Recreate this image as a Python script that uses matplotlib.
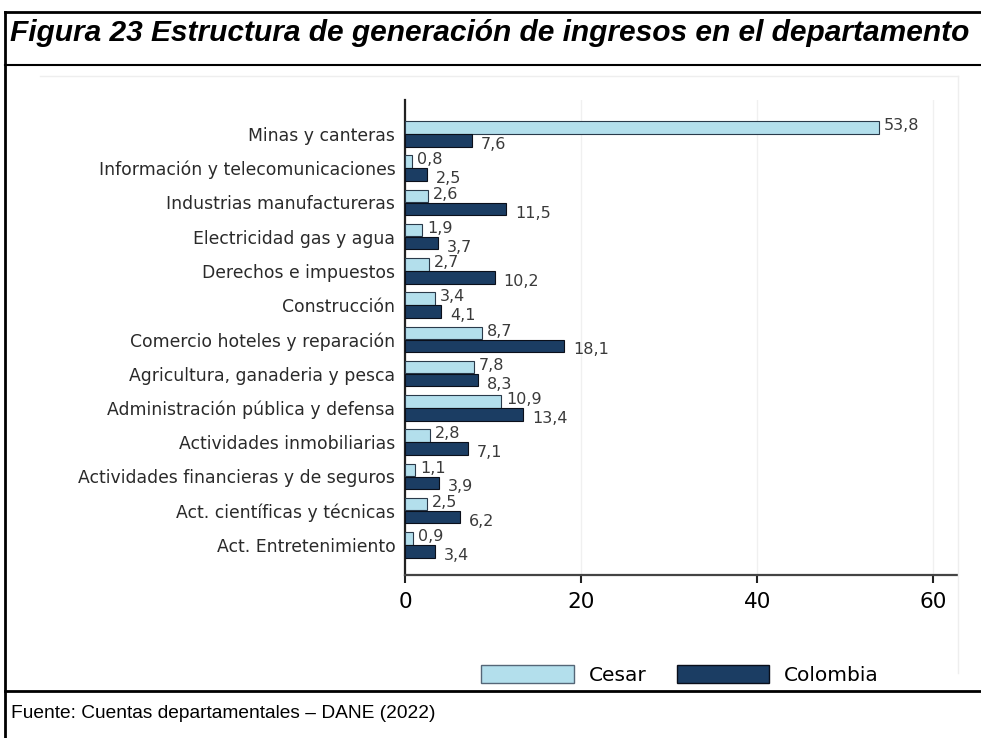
import matplotlib
matplotlib.use("Agg")
import matplotlib.pyplot as plt
from matplotlib.patches import Patch
from matplotlib.lines import Line2D
import numpy as np

categories = [
    "Minas y canteras",
    "Información y telecomunicaciones",
    "Industrias manufactureras",
    "Electricidad gas y agua",
    "Derechos e impuestos",
    "Construcción",
    "Comercio hoteles y reparación",
    "Agricultura, ganaderia y pesca",
    "Administración pública y defensa",
    "Actividades inmobiliarias",
    "Actividades financieras y de seguros",
    "Act. científicas y técnicas",
    "Act. Entretenimiento",
]
cesar = [53.8, 0.8, 2.6, 1.9, 2.7, 3.4, 8.7, 7.8, 10.9, 2.8, 1.1, 2.5, 0.9]
colombia = [7.6, 2.5, 11.5, 3.7, 10.2, 4.1, 18.1, 8.3, 13.4, 7.1, 3.9, 6.2, 3.4]
xticks = [0, 20, 40, 60]
series_names = ["Cesar", "Colombia"]

W, H = 981, 738
fig = plt.figure(figsize=(W / 100, H / 100), dpi=100)
plt.rcParams['font.family'] = ['Liberation Sans', 'DejaVu Sans']
WIDE = ['DejaVu Sans']

def fx(px):
    return px / W

def fy(py):
    return 1 - py / H

# frame lines (table-like border)
for (x0, y0, x1, y1, lw, c) in [
    (5, 12, W, 12, 2.0, 'black'),
    (5, 65, W, 65, 1.5, 'black'),
    (5, 691, W, 691, 2.0, 'black'),
    (5, 12, 5, H, 2.0, 'black'),
    (40, 76, 958, 76, 1.0, '#eeeeee'),
    (958, 76, 958, 673, 1.0, '#eeeeee'),
]:
    fig.add_artist(Line2D([fx(x0), fx(x1)], [fy(y0), fy(y1)], color=c, lw=lw,
                          transform=fig.transFigure))

fig.text(fx(10), fy(33), "Figura 23 Estructura de generación de ingresos en el departamento",
         fontsize=21.5, fontweight='bold', fontstyle='italic', va='center', ha='left')
fig.text(fx(11), fy(713), "Fuente: Cuentas departamentales – DANE (2022)",
         fontsize=13.8, va='center', ha='left')

left, right, top, bottom = 405, 957, 100, 575
ax = fig.add_axes([fx(left), fy(bottom), fx(right) - fx(left), (bottom - top) / H])

y = np.arange(len(categories))
h = 0.36
off = 0.19
c_light = '#b3dfec'
c_dark = '#1b3d63'
ax.barh(y - off, cesar, height=h, color=c_light, edgecolor='#2a3a4a', linewidth=0.8, zorder=3)
ax.barh(y + off, colombia, height=h, color=c_dark, edgecolor='#0a0f1a', linewidth=0.8, zorder=3)

for i in range(len(categories)):
    ax.text(cesar[i] + 0.6, y[i] - off - 0.05, f"{cesar[i]:.1f}".replace('.', ','),
            fontsize=11.5, family=WIDE, color='#3a3a3a', va='center', ha='left', zorder=4)
    ax.text(colombia[i] + 1.0, y[i] + off + 0.12, f"{colombia[i]:.1f}".replace('.', ','),
            fontsize=11.5, family=WIDE, color='#3a3a3a', va='center', ha='left', zorder=4)

ax.set_yticks(y)
ax.set_yticklabels(categories, fontsize=12.4, family=WIDE, color='#2a2a2a')
ax.tick_params(axis='y', length=0, pad=7)
ax.set_ylim(12.88, -0.99)
ax.set_xlim(0, 62.7)
ax.set_xticks(xticks)
ax.set_xticklabels([str(t) for t in xticks], fontsize=15.5, family=WIDE)
ax.tick_params(axis='x', length=6, width=1.5, color='#222222', pad=6)
ax.grid(axis='x', color='#f0f0f0', lw=1.0, zorder=0)
for s in ['top', 'right']:
    ax.spines[s].set_visible(False)
ax.spines['left'].set_linewidth(1.6)
ax.spines['left'].set_color('#222222')
ax.spines['bottom'].set_linewidth(1.6)
ax.spines['bottom'].set_color('#444444')

handles = [Patch(facecolor=c_light, edgecolor='#556677', label=series_names[0]),
           Patch(facecolor=c_dark, edgecolor='#0a0f1a', label=series_names[1])]
fig.legend(handles=handles, loc='center', bbox_to_anchor=(fx(680), fy(675)), ncol=2,
           frameon=False, prop={'family': WIDE, 'size': 14.5}, handlelength=4.6,
           handleheight=0.95, columnspacing=1.5, handletextpad=0.75)

fig.savefig("out.png", dpi=100)
